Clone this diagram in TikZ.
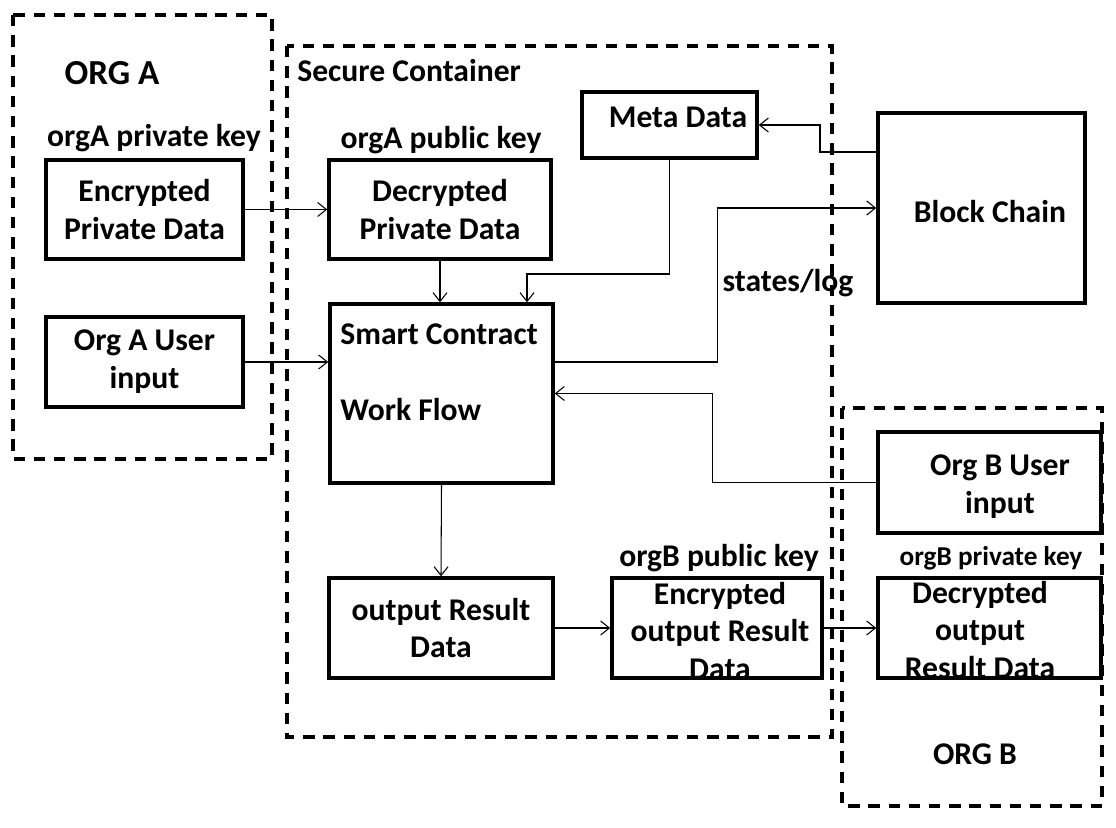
\documentclass[tikz,border=0pt]{standalone}
\usepackage{fontspec}
\setmainfont{Carlito}
\usetikzlibrary{arrows.meta}
\newlength\pxu
\setlength\pxu{0.02cm}
\tikzset{
  every node/.style={font=\bfseries\fontsize{18}{21.5}\selectfont, inner sep=0pt, align=center},
  box/.style={draw, line width=2pt},
  zone/.style={line width=2.2pt, dash pattern=on 6.5pt off 5pt},
  link/.style={line width=0.6pt, -{Straight Barb[length=5pt,width=8pt]}},
}
\begin{document}
\begin{tikzpicture}[x=0.02cm,y=-0.02cm]
\useasboundingbox (0,0) rectangle (1116,828);
% zones
\draw[zone] (13,15) rectangle (272,459);
\draw[zone] (287,46) rectangle (832,737);
\draw[zone] (842,408) rectangle (1102,806);
\node[font=\bfseries\fontsize{20}{24}\selectfont] (orgA) at (112,73) {ORG A};
\node[anchor=west] (secure) at (297,71) {Secure Container};
\node (orgB) at (975,754) {ORG B};
% boxes
\node[box, minimum width=197\pxu, minimum height=99\pxu] (enc) at (144.5,209.5) {Encrypted\\Private Data};
\node[box, minimum width=197\pxu, minimum height=90\pxu] (userA) at (144.5,362) {Org A User\\input};
\node[box, minimum width=222\pxu, minimum height=99\pxu] (dec) at (440,209.5) {Decrypted\\Private Data};
\node[box, minimum width=175\pxu, minimum height=66\pxu] (meta) at (669.5,125) {};
\node[box, minimum width=207\pxu, minimum height=190\pxu] (chain) at (981.5,208) {};
\node[box, minimum width=223\pxu, minimum height=179\pxu] (sc) at (441.5,393.5) {};
\node[box, minimum width=223\pxu, minimum height=101\pxu] (userB) at (989.5,482.5) {};
\node[box, minimum width=224\pxu, minimum height=100\pxu] (out) at (441,628) {output Result\\Data};
\node[box, minimum width=210\pxu, minimum height=100\pxu] (encout) at (717,628) {};
\node[box, minimum width=223\pxu, minimum height=100\pxu] (decout) at (989.5,628) {};
% texts
\node (keyA1) at (154,138) {orgA private key};
\node (keyA2) at (441,140) {orgA public key};
\node (metatxt) at (678,117) {Meta Data};
\node (chaintxt) at (990,212) {Block Chain};
\node (sctxt) [anchor=west, align=left] at (340,372) {Smart Contract\\[21.5pt]Work Flow};
\node (userBtxt) at (1000,487) {Org B User\\input};
\node (states) at (788,283) {states/log};
\node (keyB1) at (719,558) {orgB public key};
\node[font=\bfseries\fontsize{15.5}{19}\selectfont] (keyB2) at (991,558) {orgB private key};
\node (encouttxt) at (720,631) {Encrypted\\output Result\\Data};
\node (decouttxt) at (980,630) {Decrypted\\output\\Result Data};
% connectors
\draw[link] (enc.east) -- (dec.west);
\draw[link] (userA.east) -- (userA.east -| sc.west);
\draw[link] (dec.south) -- (dec.south |- sc.north);
\coordinate (mjoin) at (527,274);
\draw[link] (meta.south) |- (mjoin) -- (mjoin |- sc.north);
\draw[link] (sc.east |- userA.east) -- ++(163,0) |- (chain.west);
\draw[link] (chain.west |- 0,152) -| (820,125) -- (meta.east);
\draw[link] (userB.west) -- ++(-164,0) |- (sc.east);
\draw[link] (sc.south) -- (out.north);
\draw[link] (out.east) -- (encout.west);
\draw[link] (encout.east) -- (decout.west);
\end{tikzpicture}
\end{document}
